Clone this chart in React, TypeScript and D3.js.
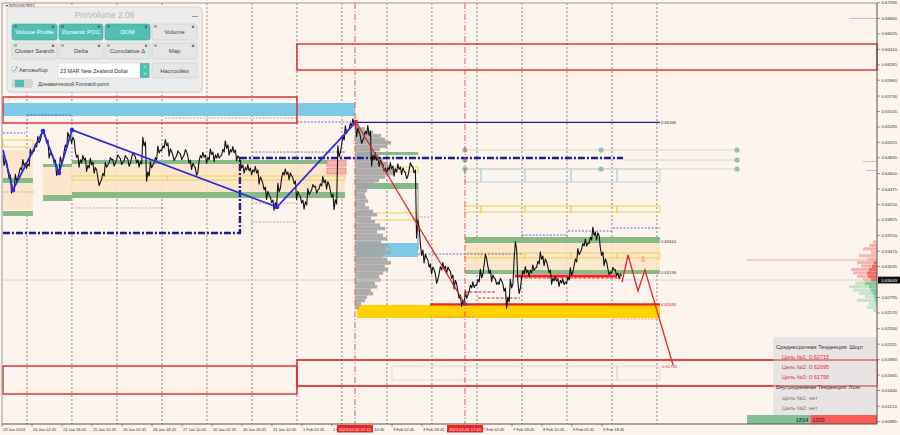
import React, { useEffect } from "react";
import * as d3 from "d3";

const W = 900;
const H = 435;
const FONT = "'Liberation Sans', Arial, sans-serif";

// ---- axes ----
const HOURS_TOTAL = 466.67; // trading hours shown, from 23 Jan 2023 10:45
const priceTicks = [
  0.6709, 0.6686, 0.66635, 0.6641, 0.66185, 0.6596, 0.6573, 0.65505, 0.6528, 0.65055,
  0.6483, 0.646, 0.64375, 0.6415, 0.63925, 0.637, 0.6347, 0.63245, 0.62795,
  0.6257, 0.6234, 0.62115, 0.6189, 0.61665, 0.6144, 0.6121, 0.60985,
];
const timeLabels = [
  "23 Jan 2023", "24 Jan 02:45", "24 Jan 18:45", "25 Jan 10:45", "26 Jan 02:45",
  "26 Jan 18:45", "27 Jan 10:45", "30 Jan 02:45", "30 Jan 18:45", "31 Jan 10:45",
  "1 Feb 02:45", "1 Feb 18:45", "2 Feb 10:45", "3 Feb 02:45", "3 Feb 18:45",
  "6 Feb 10:45", "7 Feb 02:45", "7 Feb 18:45", "8 Feb 10:45", "9 Feb 02:45", "9 Feb 18:45",
];
const timeLabelStep = 16;
const dayGridHours = [13.3, 37.3, 61.3, 85.3, 109.3, 133.3, 157.3, 181.3, 205.3, 229.3, 253.3, 277.3, 301.3, 325.3, 349.3];
const markerLines = [
  { hour: 188.27, text: "2023.02.02 07:15" },
  { hour: 246.93, text: "2023.02.06 17:45" },
];
const currentPrice = 0.63049;

// ---- price (close) every 2 trading hours, plus bar range in pips ----
const closeStart = 0.5;
const closeStep = 2;
const closes = [
  0.64871, 0.64769, 0.64579, 0.64361, 0.64536, 0.64652, 0.64754, 0.6471, 0.64914, 0.64987,
  0.65089, 0.65206, 0.65089, 0.64871, 0.64798, 0.64623, 0.64798, 0.64973, 0.65162, 0.65089,
  0.64871, 0.64754, 0.64827, 0.64681, 0.64769, 0.64652, 0.64477, 0.64565, 0.64725, 0.64798,
  0.64754, 0.64842, 0.64769, 0.64827, 0.64754, 0.64871, 0.64798, 0.6474, 0.6506, 0.64565,
  0.64725, 0.64798, 0.64944, 0.64973, 0.65046, 0.64914, 0.64827, 0.649, 0.64842, 0.64914,
  0.64798, 0.6471, 0.64623, 0.64827, 0.64871, 0.64798, 0.64914, 0.64827, 0.64856, 0.64914,
  0.65016, 0.64914, 0.64944, 0.64827, 0.64725, 0.64652, 0.64681, 0.64623, 0.64652, 0.64506,
  0.64404, 0.64288, 0.64215, 0.64128, 0.6439, 0.64579, 0.64623, 0.64565, 0.64492, 0.64288,
  0.64215, 0.64142, 0.64332, 0.64404, 0.64361, 0.64419, 0.64506, 0.64434, 0.64302, 0.64157,
  0.64914, 0.65089, 0.65235, 0.65293, 0.65352, 0.65206, 0.65089, 0.65177, 0.6522, 0.64798,
  0.64842, 0.64754, 0.64681, 0.64652, 0.6471, 0.64623, 0.64696, 0.64638, 0.64565, 0.6471,
  0.64652, 0.63807, 0.63487, 0.6337, 0.63283, 0.63195, 0.63064, 0.63195, 0.63253, 0.63195,
  0.63122, 0.62991, 0.62831, 0.62714, 0.62831, 0.62933, 0.62977, 0.6302, 0.63137, 0.63355,
  0.63195, 0.63079, 0.6302, 0.63035, 0.62933, 0.62729, 0.62991, 0.63487, 0.62933, 0.63137,
  0.63195, 0.63151, 0.63224, 0.63283, 0.63399, 0.63312, 0.63195, 0.63035, 0.63064, 0.63006,
  0.6302, 0.63049, 0.63166, 0.63312, 0.63457, 0.63545, 0.63589, 0.63632, 0.63749, 0.6369,
  0.63457, 0.63312, 0.63166, 0.63195, 0.63151, 0.63108,
];
const rangePips = [
  8, 10, 12, 9, 11, 8, 10, 7, 9, 12,
  10, 8, 11, 9, 12, 10, 9, 11, 8, 10,
  9, 12, 8, 10, 11, 9, 13, 10, 8, 9,
  11, 8, 10, 9, 12, 8, 10, 9, 14, 15,
  10, 9, 11, 8, 10, 12, 9, 8, 10, 9,
  11, 10, 12, 9, 8, 10, 9, 11, 8, 10,
  12, 9, 10, 8, 11, 9, 10, 8, 11, 12,
  10, 13, 9, 12, 14, 10, 9, 11, 10, 13,
  11, 12, 10, 9, 11, 8, 10, 12, 11, 16,
  18, 14, 12, 10, 9, 14, 12, 10, 16, 18,
  12, 10, 11, 9, 10, 12, 9, 11, 10, 12,
  10, 30, 20, 14, 12, 11, 16, 12, 10, 11,
  12, 14, 12, 10, 12, 11, 9, 10, 14, 18,
  12, 11, 9, 10, 12, 18, 14, 30, 20, 12,
  10, 11, 9, 10, 12, 11, 10, 9, 8, 10,
  9, 10, 12, 11, 10, 9, 11, 10, 14, 12,
  13, 11, 10, 9, 10, 8,
];

// ---- zigzag & projections ----
const zigzag = [
  [0.53, 0.64944], [5.87, 0.64361], [21.87, 0.6522], [30.4, 0.64608],
  [37.33, 0.65235], [146.67, 0.64113], [188.8, 0.65352],
];
const projectionDown = [[188.8, 0.65352], [246.9, 0.627]];
const projectionZig = [[330.7, 0.6302], [333.9, 0.63414], [339.2, 0.62889], [342.9, 0.63195], [357.9, 0.61811]];
const arrowMark = { hour: 341.9, price: 0.63312 };

// ---- zones (hours / prices) ----
const redBoxes = [
  { from: 0.5, to: 157.3, hi: 0.65716, lo: 0.65337 },
  { from: 157.3, to: 466.67, hi: 0.66488, lo: 0.66109 },
  { from: 0.5, to: 157.3, hi: 0.61796, lo: 0.61388 },
  { from: 157.3, to: 466.67, hi: 0.61884, lo: 0.61505 },
];
const skyBands = [
  { from: 0.5, to: 188.3, hi: 0.65628, lo: 0.65439 },
  { from: 189.3, to: 221.9, hi: 0.63589, lo: 0.63385 },
];
const goldBands = [{ from: 189.3, to: 350.9, hi: 0.62685, lo: 0.62496 }];
const peachBands = [
  { from: 0.5, to: 16.5, hi: 0.64944, lo: 0.64069 },
  { from: 21.9, to: 37.3, hi: 0.64725, lo: 0.64215 },
  { from: 37.3, to: 182.9, hi: 0.64798, lo: 0.64244 },
  { from: 246.9, to: 350.9, hi: 0.63589, lo: 0.63195 },
];
const greenBars = [
  { from: 0.5, to: 16.5, hi: 0.64536, lo: 0.64463 },
  { from: 0.5, to: 16.5, hi: 0.64055, lo: 0.63982 },
  { from: 21.9, to: 37.3, hi: 0.6474, lo: 0.64696 },
  { from: 21.9, to: 37.3, hi: 0.64288, lo: 0.64201 },
  { from: 37.3, to: 182.9, hi: 0.64798, lo: 0.6474 },
  { from: 37.3, to: 182.9, hi: 0.64332, lo: 0.64244 },
  { from: 189.3, to: 221.9, hi: 0.64914, lo: 0.64871 },
  { from: 189.3, to: 221.9, hi: 0.64463, lo: 0.64375 },
  { from: 246.9, to: 350.9, hi: 0.63676, lo: 0.63589 },
  { from: 246.9, to: 350.9, hi: 0.63195, lo: 0.63137 },
];
const segHours = [246.9, 255.5, 278.9, 303.5, 328, 350.9];
const yellowBoxes = [
  { from: 0.5, to: 16.5, hi: 0.65089, lo: 0.64987 },
  { from: 37.3, to: 88, hi: 0.64565, lo: 0.64506 },
  { from: 88, to: 126.9, hi: 0.64565, lo: 0.64506 },
  { from: 126.9, to: 182.9, hi: 0.64565, lo: 0.64506 },
  { from: 189.3, to: 221.9, hi: 0.64696, lo: 0.64623 },
  { from: 189.3, to: 221.9, hi: 0.64026, lo: 0.63924 },
];
const yellowSegLevels = [{ hi: 0.64128, lo: 0.6404 }, { hi: 0.63443, lo: 0.6337 }];
const lightBlueSegLevel = { hi: 0.64667, lo: 0.64477 };
const greyBoxes = [
  { from: 208, to: 328, hi: 0.61796, lo: 0.61593 },
  { from: 328, to: 350.9, hi: 0.61796, lo: 0.61593 },
];
const navyDashPath = [[0.5, 0.63734], [126.9, 0.63734], [126.9, 0.64827], [331.2, 0.64827]];
const navyLevel = { from: 188.3, to: 350.9, price: 0.65346 };
const redLevel = { from: 228.3, to: 350.9, price: 0.62695 };
const redThick = { from: 273.6, to: 328, price: 0.63108 };
const gapConnector = [[221.9, 0.64463], [221.9, 0.63487]];
const levelLabels = [
  { hour: 351.5, price: 0.65346, text: "0.65346", red: false },
  { hour: 351.5, price: 0.6361, text: "0.63610", red: false },
  { hour: 351.5, price: 0.63158, text: "0.63158", red: false },
  { hour: 351.5, price: 0.62695, text: "0.62695", red: true },
  { hour: 352, price: 0.61795, text: "0.61795", red: true },
];
const darkRedDashes = [
  { from: 276.3, to: 330, price: 0.63079 },
  { from: 246.9, to: 262.9, price: 0.62875 },
  { from: 253.9, to: 276.3, price: 0.62787 },
];
const salmonDots = [
  { from: 228.3, to: 252.3, price: 0.6251 },
  { from: 325.9, to: 349.3, price: 0.62481 },
  { from: 221.3, to: 229.3, price: 0.63967 },
  { from: 0.5, to: 17.6, price: 0.64332 },
  { from: 38.9, to: 86.9, price: 0.64099 },
  { from: 133.3, to: 157.3, price: 0.64171 },
  { from: 133.3, to: 157.3, price: 0.63894 },
  { from: 86.9, to: 157.3, price: 0.6541 },
];
const blueDots = [
  { from: 0.5, to: 12.3, price: 0.65191 },
  { from: 13.3, to: 37.3, price: 0.65453 },
  { from: 133.3, to: 182.9, price: 0.64914 },
  { from: 157.3, to: 188.3, price: 0.65352 },
  { from: 221.9, to: 277.3, price: 0.63428 },
  { from: 277.3, to: 301.9, price: 0.63705 },
  { from: 301.9, to: 325.3, price: 0.63763 },
  { from: 325.9, to: 350.9, price: 0.63807 },
];
const fiboLines = [
  { from: 246.9, to: 392, price: 0.64944 },
  { from: 331.2, to: 392, price: 0.64798 },
  { from: 246.9, to: 392, price: 0.64667 },
];
const fiboDots = [
  [246.9, 0.64944], [246.9, 0.64798], [246.9, 0.64667],
  [319.5, 0.64944], [319.5, 0.64667],
  [392, 0.64944], [392, 0.64798], [392, 0.64667],
];
const pinkLabels = [
  { from: 173.3, to: 183.5, hi: 0.64798, lo: 0.6471 },
  { from: 173.3, to: 183.5, hi: 0.64681, lo: 0.64594 },
];
const lightRedLevel = { from: 397.3, to: 466.67, price: 0.63341 };
const shortRedTicks = [
  { from: 452, to: 466.67, price: 0.6686 },
  { from: 459, to: 466.67, price: 0.64776 },
  { from: 461, to: 466.67, price: 0.64645 },
];

// ---- volume profile (5-pip bins) ----
const profileStartHour = 188.3;
const profileLevels = [
  0.653, 0.6525, 0.652, 0.6515, 0.651, 0.6505, 0.65, 0.6495, 0.649, 0.6485, 0.648, 0.6475,
  0.647, 0.6465, 0.646, 0.6455, 0.645, 0.6445, 0.644, 0.6435, 0.643, 0.6425, 0.642, 0.6415,
  0.641, 0.6405, 0.64, 0.6395, 0.639, 0.6385, 0.638, 0.6375, 0.637, 0.6365, 0.636, 0.6355,
  0.635, 0.6345, 0.634, 0.6335, 0.633, 0.6325, 0.632, 0.6315, 0.631, 0.6305, 0.63, 0.6295,
  0.629, 0.6285, 0.628, 0.6275, 0.627, 0.6265,
];
const profileVolumes = [
  40, 100, 180, 260, 300, 360, 320, 250, 200, 240, 280, 330,
  360, 400, 380, 300, 240, 200, 150, 120, 100, 110, 130, 100,
  140, 180, 220, 160, 200, 250, 300, 220, 280, 320, 260, 340,
  300, 360, 280, 320, 360, 300, 330, 280, 240, 260, 200, 220,
  160, 180, 120, 100, 60, 40,
];
// right side bid/ask profile
const sideLevels = [
  0.636, 0.6355, 0.635, 0.6345, 0.634, 0.6335, 0.633, 0.6325, 0.632, 0.6315, 0.631, 0.6305,
  0.63, 0.6295, 0.629, 0.6285, 0.628, 0.6275, 0.627, 0.6265, 0.626,
];
const sellTotal = [4, 8, 14, 6, 18, 10, 20, 16, 26, 24, 20, 14, 0, 0, 0, 0, 0, 0, 0, 0, 0];
const sellCore = [0, 0, 0, 0, 0, 0, 3, 5, 8, 10, 9, 6, 0, 0, 0, 0, 0, 0, 0, 0, 0];
const buyTotal = [0, 0, 0, 0, 0, 0, 0, 0, 0, 0, 0, 0, 22, 28, 24, 18, 12, 20, 8, 10, 4];
const buyCore = [0, 0, 0, 0, 0, 0, 0, 0, 0, 0, 0, 0, 12, 8, 6, 4, 3, 2, 1, 0, 0];

// ---- info panel ----
const infoLines = [
  { text: "Среднесрочная Тенденция: Шорт", kind: "head" },
  { text: "Цель №1: 0.62715", kind: "red" },
  { text: "Цель №2: 0.62695", kind: "red" },
  { text: "Цель №3: 0.61795", kind: "red" },
  { text: "Внутридневная Тенденция: Лонг", kind: "head" },
  { text: "Цель №1: нет", kind: "grey" },
  { text: "Цель №2: нет", kind: "grey" },
];
const buyVolume = 1834;
const sellVolume = 1933;

const x = d3.scaleLinear().domain([0, HOURS_TOTAL]).range([2, 877]);
const y = d3.scaleLinear().domain([0.60985, 0.6709]).range([421.7, 2.7]);

type Zone = { from: number; to: number; hi: number; lo: number };
const zr = (z: Zone) => ({ x: x(z.from), y: y(z.hi), width: x(z.to) - x(z.from), height: y(z.lo) - y(z.hi) });

const MARKER_HALF = 18;
const LABEL_W = 22;

const Button = ({ x0, y0, w, h, label, teal }: { x0: number; y0: number; w: number; h: number; label: string; teal: boolean }) => (
  <g>
    <rect x={x0} y={y0} width={w} height={h} rx={2} fill={teal ? "#52bfb3" : "#e6e6e6"} stroke={teal ? "#3fa89c" : "#c9c9c9"} strokeWidth={0.6} />
    <text x={x0 + w / 2} y={y0 + h / 2 + 2.2} textAnchor="middle" fontSize={6} fill={teal ? "#ffffff" : "#444"} fontFamily={FONT}>{label}</text>
    <circle cx={x0 + w - 4} cy={y0 + 2.8} r={1.4} fill={teal ? "#2f7f76" : "#777"} />
    <rect x={x0 + 2} y={y0 + 1.5} width={3} height={2} fill={teal ? "#2f7f76" : "#999"} />
  </g>
);

export default function App() {
  useEffect(() => {
    document.body.style.margin = "0";
  }, []);

  const tracePts: [number, number][] = [];
  closes.forEach((c, i) => {
    const t = closeStart + i * closeStep;
    const r = rangePips[i] * 0.0001;
    const a = i % 2 === 0 ? c + r * 0.5 : c - r * 0.5;
    const b = i % 2 === 0 ? c - r * 0.4 : c + r * 0.4;
    if (i > 0) {
      tracePts.push([t - 1.4, a]);
      tracePts.push([t - 0.7, b]);
    }
    tracePts.push([t, c]);
  });
  const priceLine = d3.line<[number, number]>().x((d) => x(d[0])).y((d) => y(d[1]))(tracePts) || "";
  const ptLine = d3.line<number[]>().x((d) => x(d[0])).y((d) => y(d[1]));
  const volW = d3.scaleLinear().domain([0, 400]).range([0, 40]);
  const binH = y(0.63) - y(0.6305);
  const vbar = d3.scaleLinear().domain([0, buyVolume + sellVolume]).range([0, 130]);
  const barLeft = 747;

  // a time label hidden entirely under a marker box is not drawn
  const hiddenUnderMarker = (lx: number) =>
    markerLines.some((m) => lx >= x(m.hour) - MARKER_HALF && lx + LABEL_W <= x(m.hour) + MARKER_HALF);

  return (
    <svg width={W} height={H} style={{ position: "absolute", left: 0, top: 0, display: "block" }} fontFamily={FONT}>
      <defs>
        <clipPath id="axisClip">
          <path d={
            "M0,424 H" + (x(markerLines[0].hour) - MARKER_HALF) + " V435 H0 Z " +
            "M" + (x(markerLines[0].hour) + MARKER_HALF) + ",424 H" + (x(markerLines[1].hour) - MARKER_HALF) + " V435 H" + (x(markerLines[0].hour) + MARKER_HALF) + " Z " +
            "M" + (x(markerLines[1].hour) + MARKER_HALF) + ",424 H877 V435 H" + (x(markerLines[1].hour) + MARKER_HALF) + " Z"
          } />
        </clipPath>
      </defs>
      <rect x={0} y={0} width={W} height={H} fill="#fdf4ee" />

      {dayGridHours.map((h, i) => (
        <line key={"g" + i} x1={x(h)} x2={x(h)} y1={3} y2={424} stroke="#5a5a5a" strokeWidth={0.7} strokeDasharray="2,2" />
      ))}

      {peachBands.map((z, i) => <rect key={"pe" + i} {...zr(z)} fill="#fbe3c6" opacity={0.85} />)}
      {skyBands.map((z, i) => <rect key={"sk" + i} {...zr(z)} fill="#7ec9e6" />)}
      {goldBands.map((z, i) => <rect key={"go" + i} {...zr(z)} fill="#ffd200" />)}
      {greenBars.map((z, i) => <rect key={"gr" + i} {...zr(z)} fill="#88ba88" />)}
      {yellowBoxes.map((z, i) => <rect key={"yb" + i} {...zr(z)} fill="none" stroke="#f0d24a" strokeWidth={1} />)}
      {yellowSegLevels.map((lv, j) =>
        segHours.slice(0, -1).map((h, i) => (
          <rect key={"ys" + j + "-" + i} {...zr({ from: h, to: segHours[i + 1], hi: lv.hi, lo: lv.lo })} fill="none" stroke="#f0d24a" strokeWidth={1} />
        ))
      )}
      {segHours.slice(0, -1).map((h, i) => (
        <rect key={"lb" + i} {...zr({ from: h, to: segHours[i + 1], hi: lightBlueSegLevel.hi, lo: lightBlueSegLevel.lo })} fill="none" stroke="#a9d6e6" strokeWidth={1} />
      ))}
      {greyBoxes.map((z, i) => <rect key={"gb" + i} {...zr(z)} fill="none" stroke="#dcd2d0" strokeWidth={0.8} />)}

      {profileLevels.map((p, i) => (
        <rect key={"vp" + i} x={x(profileStartHour)} y={y(p + 0.00025)} width={volW(profileVolumes[i])} height={binH} fill="#a4a4a4" opacity={0.9} />
      ))}

      {salmonDots.map((l, i) => (
        <line key={"sd" + i} x1={x(l.from)} x2={x(l.to)} y1={y(l.price)} y2={y(l.price)} stroke="#e58080" strokeWidth={0.8} strokeDasharray="2,1.5" />
      ))}
      {blueDots.map((l, i) => (
        <line key={"bd" + i} x1={x(l.from)} x2={x(l.to)} y1={y(l.price)} y2={y(l.price)} stroke="#4848c8" strokeWidth={0.8} strokeDasharray="2,1.5" />
      ))}
      {darkRedDashes.map((l, i) => (
        <line key={"dr" + i} x1={x(l.from)} x2={x(l.to)} y1={y(l.price)} y2={y(l.price)} stroke="#a03838" strokeWidth={1} strokeDasharray="3,1.5" />
      ))}

      {fiboLines.map((l, i) => (
        <line key={"fl" + i} x1={x(l.from)} x2={x(l.to)} y1={y(l.price)} y2={y(l.price)} stroke="#d8d4d0" strokeWidth={1} />
      ))}
      {fiboDots.map((d, i) => <circle key={"fd" + i} cx={x(d[0])} cy={y(d[1])} r={2.6} fill="#8fc2b6" />)}

      {redBoxes.map((z, i) => <rect key={"rb" + i} {...zr(z)} fill="none" stroke="#e0262a" strokeWidth={1.4} />)}
      <line x1={x(lightRedLevel.from)} x2={x(lightRedLevel.to)} y1={y(lightRedLevel.price)} y2={y(lightRedLevel.price)} stroke="#f0a8a8" strokeWidth={1} />
      {shortRedTicks.map((l, i) => (
        <line key={"srt" + i} x1={x(l.from)} x2={x(l.to)} y1={y(l.price)} y2={y(l.price)} stroke="#f0a0a0" strokeWidth={0.8} />
      ))}

      <line x1={2} x2={877} y1={y(currentPrice)} y2={y(currentPrice)} stroke="#d6ccca" strokeWidth={0.8} />

      {sideLevels.map((p, i) => (
        <g key={"sp" + i}>
          {sellTotal[i] > 0 && <rect x={877 - sellTotal[i]} y={y(p + 0.00025)} width={sellTotal[i]} height={binH - 0.4} fill="#f8b4b0" />}
          {sellCore[i] > 0 && <rect x={877 - sellCore[i]} y={y(p + 0.00025)} width={sellCore[i]} height={binH} fill="#f26a66" />}
          {buyTotal[i] > 0 && <rect x={877 - buyTotal[i]} y={y(p + 0.00025)} width={buyTotal[i]} height={binH - 0.4} fill="#c4e4cc" />}
          {buyCore[i] > 0 && <rect x={877 - buyCore[i]} y={y(p + 0.00025)} width={buyCore[i]} height={binH} fill="#86c89e" />}
        </g>
      ))}

      <path d={ptLine(navyDashPath) || ""} fill="none" stroke="#1e1e8e" strokeWidth={2.4} strokeDasharray="7,2,2,2" />
      <line x1={x(navyLevel.from)} x2={x(navyLevel.to)} y1={y(navyLevel.price)} y2={y(navyLevel.price)} stroke="#1e1e8e" strokeWidth={1.1} />

      {pinkLabels.map((z, i) => <rect key={"pl" + i} {...zr(z)} fill="#f6b2b2" stroke="#e06060" strokeWidth={0.5} />)}

      <line x1={x(redLevel.from)} x2={x(redLevel.to)} y1={y(redLevel.price)} y2={y(redLevel.price)} stroke="#ee2222" strokeWidth={2.2} />
      <line x1={x(redThick.from)} x2={x(redThick.to)} y1={y(redThick.price)} y2={y(redThick.price)} stroke="#ff2020" strokeWidth={3} />

      <path d={ptLine(gapConnector) || ""} stroke="#888" strokeWidth={0.8} />
      <path d={priceLine} fill="none" stroke="#111" strokeWidth={1.1} strokeLinejoin="round" />

      <path d={ptLine(zigzag) || ""} fill="none" stroke="#2b2be0" strokeWidth={1.8} />
      {zigzag.slice(1).map((d, i) => (
        <circle key={"zz" + i} cx={x(d[0])} cy={y(d[1])} r={2.3} fill={i === zigzag.length - 2 ? "#d8204a" : "#2b2be0"} />
      ))}
      <path d={ptLine(projectionDown) || ""} fill="none" stroke="#e02828" strokeWidth={1.3} />
      <circle cx={x(projectionDown[1][0])} cy={y(projectionDown[1][1])} r={2} fill="#2b2be0" />
      <path d={ptLine(projectionZig) || ""} fill="none" stroke="#e02828" strokeWidth={1.3} />
      <text x={x(arrowMark.hour)} y={y(arrowMark.price)} textAnchor="middle" fontSize={8} fill="#e05050" fontFamily="'DejaVu Sans'">⇩</text>

      {levelLabels.map((l, i) => (
        <text key={"ll" + i} x={x(l.hour)} y={y(l.price) + 1.5} fontSize={4.2} fill={l.red ? "#e02020" : "#333"}>{l.text}</text>
      ))}

      {markerLines.map((m, i) => (
        <line key={"ml" + i} x1={x(m.hour)} x2={x(m.hour)} y1={3} y2={424} stroke="#e04848" strokeWidth={0.9} strokeDasharray="6,2,1,2" />
      ))}

      {/* info panel */}
      <rect x={773} y={337} width={104} height={78} fill="#e7e4e3" />
      {infoLines.map((l, i) => (
        <text key={"il" + i} x={l.kind === "head" ? 776 : 782} y={348.5 + i * 10.2} fontSize={5.6}
          fill={l.kind === "red" ? "#e03434" : l.kind === "head" ? "#333" : "#777"}>{l.text}</text>
      ))}
      <rect x={barLeft} y={415} width={vbar(buyVolume)} height={9} fill="#7fc198" />
      <rect x={barLeft + vbar(buyVolume)} y={415} width={vbar(sellVolume)} height={9} fill="#ff5a5a" />
      <text x={barLeft + vbar(buyVolume) - 2} y={421.8} textAnchor="end" fontSize={5.6} fill="#222">{buyVolume}</text>
      <text x={barLeft + vbar(buyVolume) + 2} y={421.8} fontSize={5.6} fill="#222">{sellVolume}</text>

      <line x1={x(157.3)} x2={877} y1={y(0.61884)} y2={y(0.61884)} stroke="#e0262a" strokeWidth={1.2} />
      <line x1={x(157.3)} x2={877} y1={y(0.61505)} y2={y(0.61505)} stroke="#e0262a" strokeWidth={1.2} />

      {/* frame & axes */}
      <line x1={2} x2={877} y1={3} y2={3} stroke="#9a9a9a" strokeWidth={1} />
      <line x1={2} x2={2} y1={3} y2={424} stroke="#9a9a9a" strokeWidth={1} />
      <line x1={877} x2={877} y1={3} y2={424} stroke="#555" strokeWidth={1} />
      <line x1={2} x2={877} y1={424} y2={424} stroke="#555" strokeWidth={1} />
      {priceTicks.map((p, i) => (
        <g key={"pt" + i}>
          <line x1={877} x2={880} y1={y(p)} y2={y(p)} stroke="#555" strokeWidth={0.6} />
          <text x={881.5} y={y(p) + 1.5} fontSize={4.3} fill="#333">{p.toFixed(5)}</text>
        </g>
      ))}
      <rect x={878} y={y(currentPrice) - 3.4} width={22} height={6.8} fill="#111" />
      <text x={881.5} y={y(currentPrice) + 1.5} fontSize={4.3} fill="#fff">{currentPrice.toFixed(5)}</text>

      <g clipPath="url(#axisClip)">
        {timeLabels.map((t, i) => {
          const lx = x(i * timeLabelStep) + 1;
          if (hiddenUnderMarker(lx)) return null;
          return (
            <g key={"tl" + i}>
              <line x1={lx - 1} x2={lx - 1} y1={424} y2={426.5} stroke="#555" strokeWidth={0.6} />
              <text x={lx} y={431} fontSize={4} fill="#333">{t}</text>
            </g>
          );
        })}
      </g>
      {markerLines.map((m, i) => (
        <g key={"mb" + i}>
          <rect x={x(m.hour) - MARKER_HALF} y={425} width={MARKER_HALF * 2} height={7.5} fill="#ee2424" />
          <text x={x(m.hour)} y={430.6} textAnchor="middle" fontSize={4.1} fill="#fff">{m.text}</text>
        </g>
      ))}

      <text x={6} y={6.5} fontSize={4} fill="#222">▾ NZDUSD,M15</text>

      {/* ProVolume panel */}
      <g>
        <rect x={8} y={8} width={195} height={85} rx={4} fill="#000" opacity={0.08} />
        <rect x={7} y={7} width={195} height={85} rx={4} fill="#ececec" stroke="#d0d0d0" strokeWidth={0.8} />
        <text x={104.5} y={18} textAnchor="middle" fontSize={8.4} fill="#b4b4b4">ProVolume 2.06</text>
        <line x1={192} x2={198} y1={16.5} y2={16.5} stroke="#999" strokeWidth={1} />
        <Button x0={12} y0={24} w={45} h={16} label="Volume Profile" teal={true} />
        <Button x0={59} y0={24} w={44} h={16} label="Dynamic POC" teal={true} />
        <Button x0={105} y0={24} w={45} h={16} label="DOM" teal={true} />
        <Button x0={152} y0={24} w={45} h={16} label="Volume" teal={false} />
        <Button x0={12} y0={43} w={45} h={16} label="Cluster Search" teal={false} />
        <Button x0={59} y0={43} w={44} h={16} label="Delta" teal={false} />
        <Button x0={105} y0={43} w={45} h={16} label="Cumulative Δ" teal={false} />
        <Button x0={152} y0={43} w={45} h={16} label="Map" teal={false} />
        <rect x={12} y={67} width={5} height={5} fill="#fff" stroke="#aaa" strokeWidth={0.5} />
        <path d="M12.8,69.5 L14.3,71.2 L17,66.5" fill="none" stroke="#3fa89c" strokeWidth={0.9} />
        <text x={19} y={72} fontSize={5.6} fill="#444">Автовыбор</text>
        <rect x={58} y={63} width={82} height={15} fill="#fff" stroke="#d0d0d0" strokeWidth={0.6} />
        <text x={60} y={72.6} fontSize={5.4} fill="#333">23 MAR New Zealand Dollar</text>
        <rect x={140} y={63} width={9.5} height={15} fill="#52bfb3" />
        <text x={144.8} y={69} textAnchor="middle" fontSize={4.5} fill="#fff">˄</text>
        <text x={144.8} y={76} textAnchor="middle" fontSize={4.5} fill="#fff">˅</text>
        <rect x={152} y={63} width={45} height={15} rx={2} fill="#e6e6e6" stroke="#c9c9c9" strokeWidth={0.6} />
        <text x={174.5} y={72.6} textAnchor="middle" fontSize={5.8} fill="#444">Настройки</text>
        <rect x={12} y={79} width={21} height={9} rx={2} fill="#d6d6d6" />
        <rect x={15} y={80} width={9} height={7} fill="#52bfb3" />
        <text x={38} y={86} fontSize={5.4} fill="#444">Динамический Forward-point</text>
      </g>
    </svg>
  );
}
